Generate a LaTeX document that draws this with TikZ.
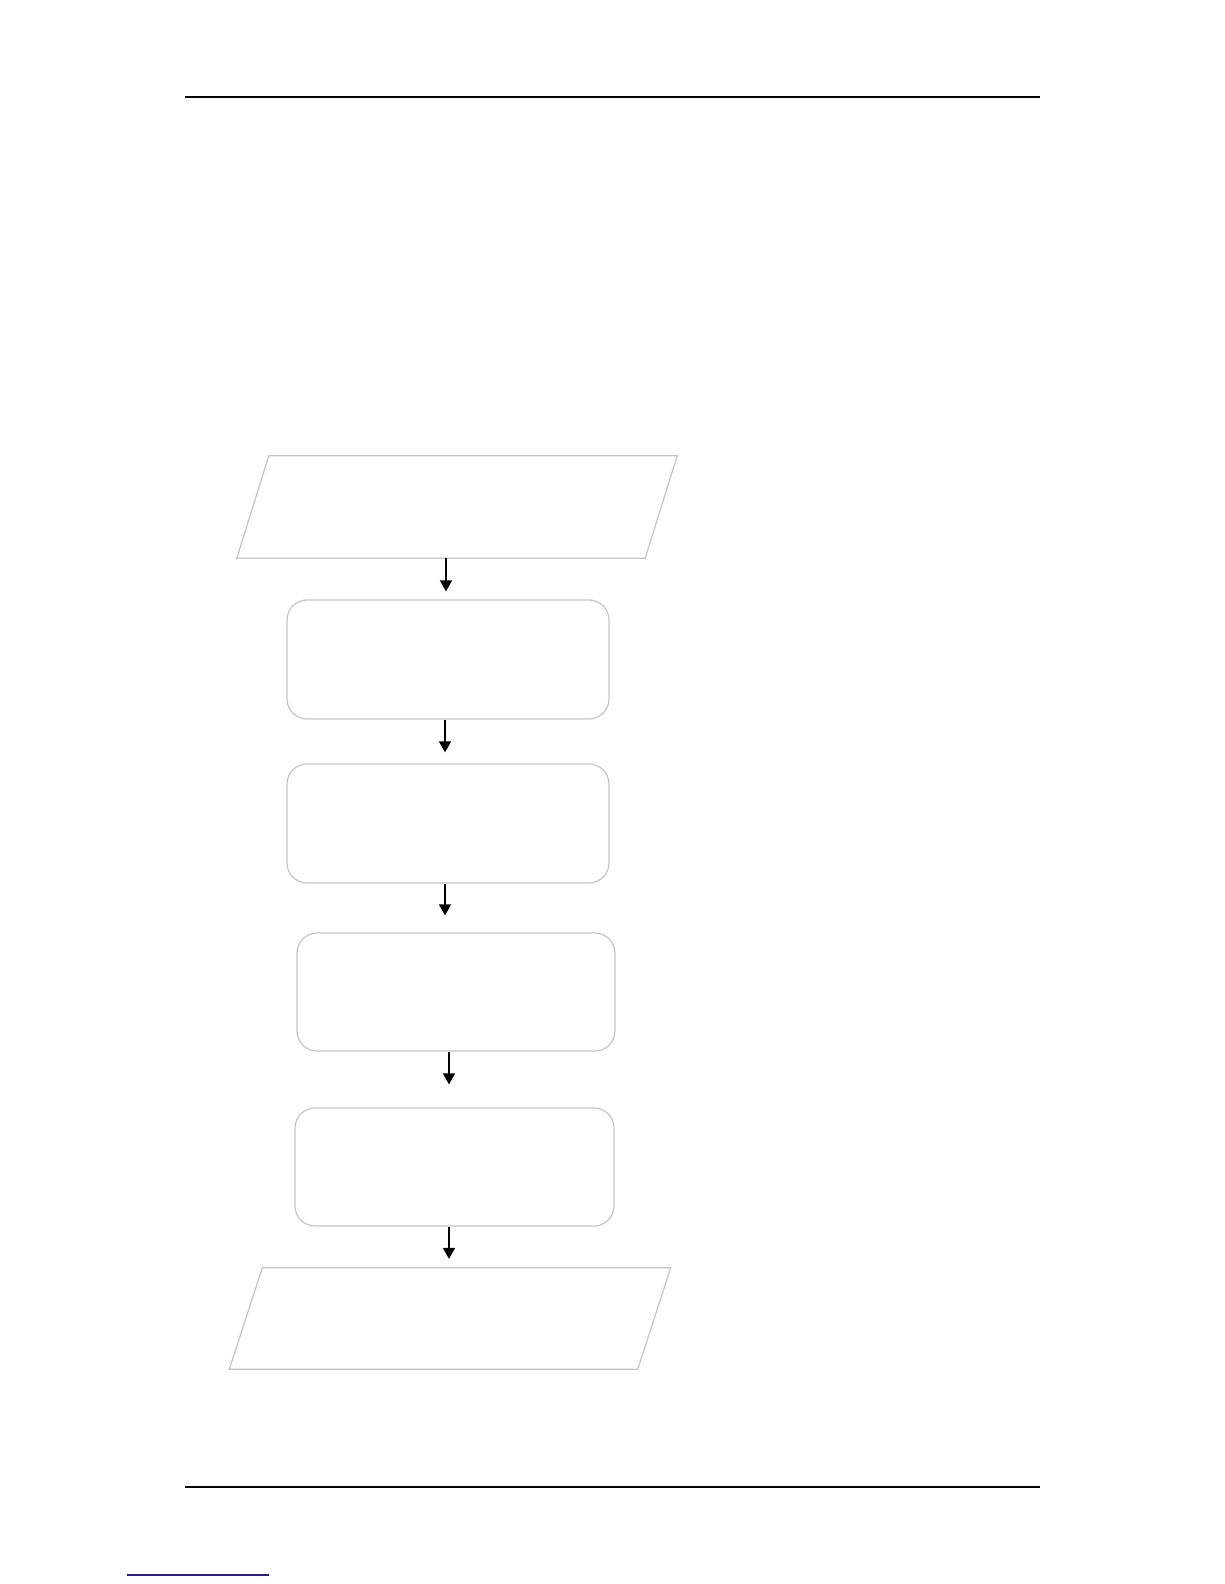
\documentclass[tikz,border=0pt]{standalone}
\usetikzlibrary{arrows.meta}
\definecolor{shapegrey}{HTML}{C4C4C4}
\definecolor{linkblue}{HTML}{1F1F8F}
\begin{document}
\begin{tikzpicture}[x=1pt,y=-1pt,
  stepbox/.style={draw=shapegrey, line width=1.2pt, rounded corners=20pt, minimum width=322pt, minimum height=119pt, inner sep=0pt},
  parabox/.style={inner sep=0pt, minimum height=102pt, minimum width=408pt},
  paraline/.style={draw=shapegrey, line width=1.2pt, line join=miter},
  arr/.style={line width=1.6pt, -{Triangle[length=11pt,width=12pt]}},
  rule/.style={line width=2pt, black}]
\useasboundingbox (0,0) rectangle (1224,1584);
% page rules
\coordinate (tl) at (185,97);
\coordinate (tr) at (1040,97);
\coordinate (bl) at (185,1487);
\coordinate (br) at (1040,1487);
\coordinate (ul) at (127,1575);
\coordinate (ur) at (269,1575);
\draw[rule] (tl) -- (tr);
\draw[rule] (bl) -- (br);
\draw[linkblue, line width=1.2pt] (ul) -- (ur);
% shapes
\node[parabox] (p1) at (457,507) {};
\draw[paraline] ([xshift=16pt]p1.north west) -- ([xshift=16pt]p1.north east) -- ([xshift=-16pt]p1.south east) -- ([xshift=-16pt]p1.south west) -- cycle;
\node[stepbox] (b1) at (448,659.5) {};
\node[stepbox] (b2) at (448,823.5) {};
\node[stepbox, minimum width=318pt, minimum height=118pt] (b3) at (456,992) {};
\node[stepbox, minimum width=319pt, minimum height=118pt] (b4) at (454.5,1167) {};
\node[parabox, minimum height=101pt] (p2) at (450,1318.5) {};
\draw[paraline] ([xshift=16.5pt]p2.north west) -- ([xshift=16.5pt]p2.north east) -- ([xshift=-16.5pt]p2.south east) -- ([xshift=-16.5pt]p2.south west) -- cycle;
% connectors
\draw[arr] ([xshift=-11pt]p1.south) -- ([xshift=-2pt,yshift=8pt]b1.north);
\draw[arr] ([xshift=-3pt]b1.south) -- ([xshift=-3pt,yshift=11pt]b2.north);
\draw[arr] ([xshift=-3pt]b2.south) -- ([xshift=-11pt,yshift=17pt]b3.north);
\draw[arr] ([xshift=-7pt]b3.south) -- ([xshift=-5.5pt,yshift=23pt]b4.north);
\draw[arr] ([xshift=-5.5pt]b4.south) -- ([xshift=-1pt,yshift=9pt]p2.north);
\end{tikzpicture}
\end{document}
